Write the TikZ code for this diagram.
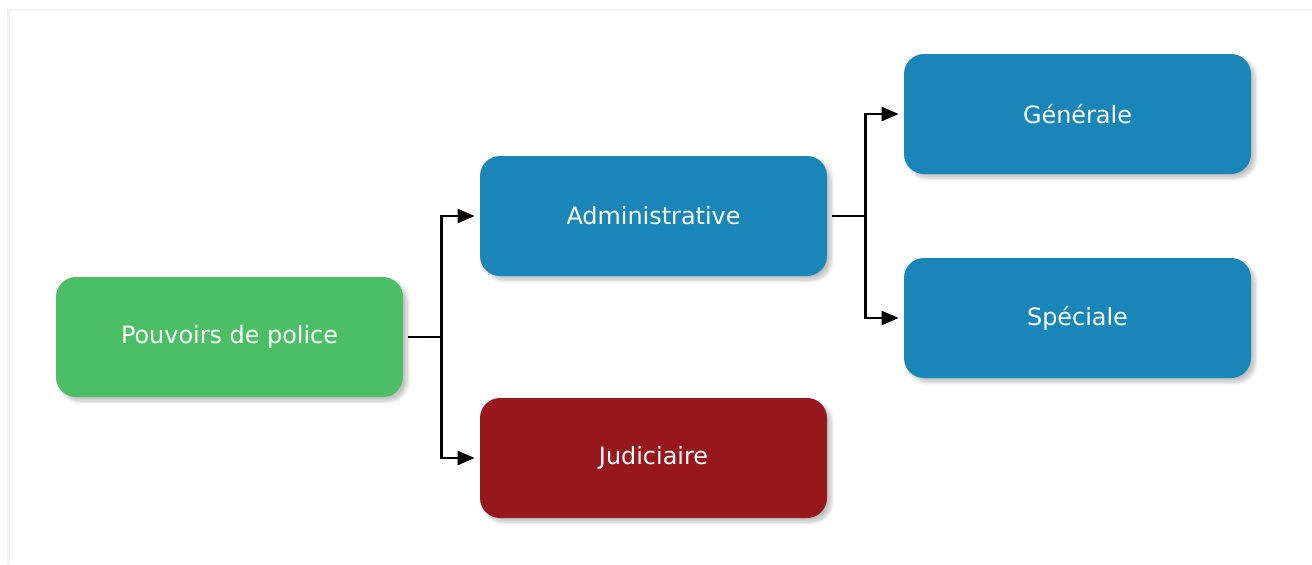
\documentclass[tikz,border=0pt]{standalone}
\usepackage{fontspec}
\setmainfont{DejaVu Sans}
\usetikzlibrary{arrows.meta,shadows.blur}

\definecolor{vert}{HTML}{4BBE66}
\definecolor{bleu}{HTML}{1A86B8}
\definecolor{rouge}{HTML}{96181D}

\begin{document}
\begin{tikzpicture}[
    boite/.style={rounded corners=0.4cm, minimum width=6.94cm, minimum height=2.4cm,
      text=white, font=\fontsize{13.6}{16}\selectfont,
      blur shadow={shadow xshift=0.08cm, shadow yshift=-0.08cm, shadow blur steps=6, shadow opacity=25}},
    fleche/.style={line width=1.4pt, -{Triangle[length=0.34cm,width=0.28cm]}, shorten >=0.1cm},
    trait/.style={line width=1.4pt}
  ]
  \useasboundingbox (0,0) rectangle (26.24,-11.28);

  % cadre
  \draw[black!5, line width=1.5pt] (0.17,-11.28) -- (0.17,-0.2) -- (26.24,-0.2);

  % boites
  \node[boite, fill=vert]  (pouvoirs) at (4.59,-6.74)  {Pouvoirs de police};
  \node[boite, fill=bleu]  (admin)    at (13.07,-4.32) {Administrative};
  \node[boite, fill=rouge] (judic)    at (13.07,-9.16) {Judiciaire};
  \node[boite, fill=bleu]  (gen)      at (21.55,-2.28) {Générale};
  \node[boite, fill=bleu]  (spec)     at (21.55,-6.36) {Spéciale};

  % embranchements
  \coordinate (b1) at ([xshift=0.76cm]pouvoirs.east);
  \coordinate (b2) at ([xshift=0.76cm]admin.east);

  % liaisons
  \draw[trait, shorten <=0.1cm] (pouvoirs.east) -- (b1);
  \draw[fleche] (b1) |- (admin.west);
  \draw[fleche] (b1) |- (judic.west);
  \draw[trait, shorten <=0.1cm] (admin.east) -- (b2);
  \draw[fleche] (b2) |- (gen.west);
  \draw[fleche] (b2) |- (spec.west);

\end{tikzpicture}
\end{document}
